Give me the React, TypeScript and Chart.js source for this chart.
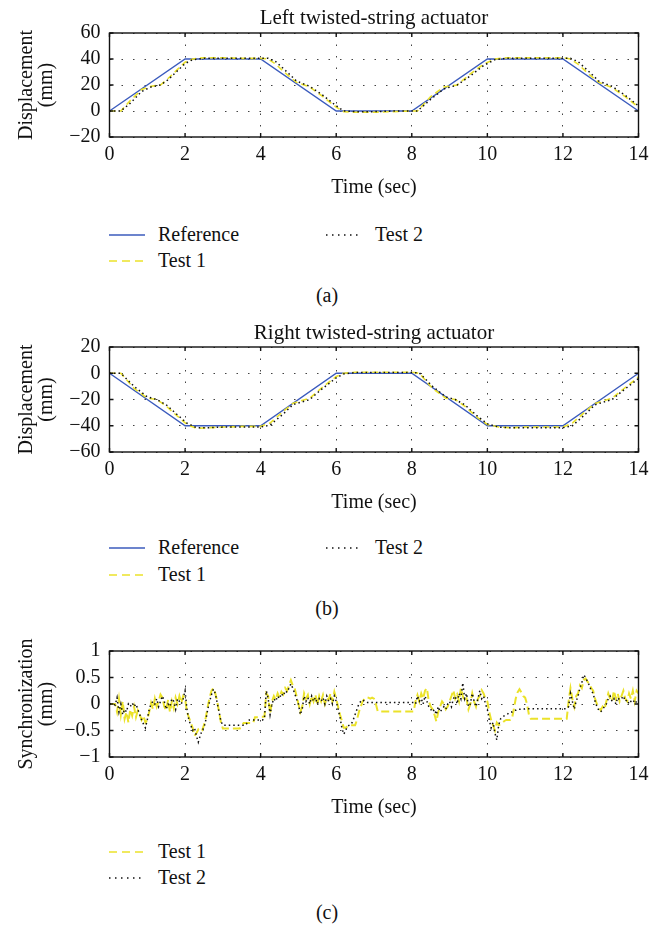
import React, { useEffect, useRef } from "react";
import { Chart, registerables } from "chart.js";

Chart.register(...registerables);

const FONT = '"Liberation Serif", "Times New Roman", serif';
const PAGE_W = 670;
const PLOT_LEFT = 109.5;
const PLOT_RIGHT = 638.5;

const BLUE = "#3b5bbd";
const YELLOW = "#ebe22a";
const BLACK = "#111111";

// ---------- Data ----------
const X_TICKS = [0, 2, 4, 6, 8, 10, 12, 14];
const LEFT_Y_TICKS = [-20, 0, 20, 40, 60];
const RIGHT_Y_TICKS = [-60, -40, -20, 0, 20];
const SYNC_Y_TICKS = [-1, -0.5, 0, 0.5, 1];

// (a) Left twisted-string actuator
const LEFT_REF_T = [0, 2, 4, 6, 8, 10, 12, 14];
const LEFT_REF = [0, 40, 40, 0, 0, 40, 40, 0];
const LEFT_TEST_T = [0, 0.3, 0.55, 0.85, 1.1, 1.35, 1.55, 1.8, 2.0, 2.2, 2.5, 3.0, 3.5, 4.0, 4.2, 4.4, 4.7, 4.95, 5.3, 5.65, 6.0, 6.2, 6.5, 7.0, 7.5, 8.0, 8.15, 8.5, 8.85, 9.2, 9.55, 9.9, 10.2, 10.5, 11.0, 11.5, 12.0, 12.2, 12.4, 12.7, 12.95, 13.3, 13.65, 14.0];
const LEFT_TEST1 = [0, 0, 8, 16.5, 19, 20, 25, 32, 37.5, 40, 41, 41, 40.5, 40.5, 40, 36, 28, 22, 18.5, 11, 3, -0.5, -1, -1, -0.5, 0, 0, 11, 18.5, 20, 28.5, 36, 40, 41, 41, 41, 41, 40, 36, 28, 22, 18, 11, 3];
const LEFT_TEST2 = [0, 0, 6, 15, 18.5, 20, 24, 31, 36.5, 39.5, 40.5, 40.5, 40.5, 40.5, 40.5, 38, 30, 23, 19, 12, 4, 0, -0.5, -0.5, 0, 0, 0, 9, 17, 20, 27, 35, 39.5, 40.5, 40.5, 40.5, 40.5, 40.5, 38, 30, 23, 19, 12, 4];

// (b) Right twisted-string actuator
const RIGHT_REF_T = [0, 2, 4, 6, 8, 10, 12, 14];
const RIGHT_REF = [0, -40, -40, 0, 0, -40, -40, 0];
const RIGHT_TEST_T = [0, 0.3, 0.65, 1.0, 1.25, 1.5, 1.77, 2.05, 2.3, 2.6, 3.0, 3.5, 4.0, 4.25, 4.6, 4.85, 5.3, 5.6, 6.0, 6.2, 6.5, 7.0, 7.5, 8.0, 8.2, 8.55, 8.9, 9.15, 9.4, 9.75, 10.0, 10.3, 10.6, 11.0, 11.5, 12.0, 12.25, 12.6, 12.85, 13.3, 13.6, 14.0];
const RIGHT_TEST1 = [0, 0, -11.5, -19, -20, -25, -32, -39, -42, -41.5, -41, -40.5, -40.5, -38, -29, -23, -19, -11.5, -2.5, 0, 0.8, 0.8, 0.8, 0.8, 0, -11.5, -19, -20, -25, -34, -39, -41, -41.5, -41, -41, -41, -38, -29, -23, -19, -12, -3];
const RIGHT_TEST2 = [0, 0, -10, -18, -20, -24, -31, -38, -41.5, -41.5, -41, -41, -41, -39.5, -31, -24, -20, -12.5, -3.5, -0.5, 0.5, 0.5, 0.5, 0.5, 0.3, -10, -18, -20, -24, -33, -38.5, -41, -41.5, -41.5, -41.5, -41.5, -40, -31, -24, -20, -13, -4];

// (c) Synchronization, sampled every 0.05 s from 0 to 14 s
const SYNC_DT = 0.05;
const SYNC_TEST1 = [
  0, 0, 0, 0, -0.15, 0.1, -0.2, 0.05, -0.28, -0.15, -0.35, -0.1, -0.22, -0.05, -0.25, -0.12, -0.2, -0.3, -0.22, -0.35,
  -0.3, -0.15, 0.02, -0.1, 0.1, -0.05, 0.05, 0.18, 0.12, -0.05, -0.12, 0.08, -0.15, 0.05, -0.08, 0.12, 0.0, 0.15, 0.02, 0.15,
  0.1, -0.15, -0.25, -0.35, -0.45, -0.6, -0.55, -0.48, -0.52, -0.5, -0.4, -0.25, -0.05, 0.12, 0.25, 0.3, 0.2, 0.05, -0.15, -0.35,
  -0.46, -0.46, -0.46, -0.46, -0.46, -0.46, -0.46, -0.46, -0.46, -0.46, -0.4, -0.36, -0.36, -0.36, -0.36, -0.36, -0.36, -0.25, -0.25, -0.25,
  -0.24, -0.24, -0.24, 0.2, 0.15, -0.18, 0.05, 0.15, 0.08, 0.2, 0.12, 0.23, 0.18, 0.3, 0.25, 0.35, 0.45, 0.35, 0.3, 0.15,
  0.0, -0.15, -0.05, 0.2, 0.1, 0.17, 0.0, 0.15, 0.05, 0.18, -0.02, 0.15, 0.05, 0.17, 0.0, 0.12, 0.08, 0.2, 0.05, 0.23,
  0.1, -0.05, -0.2, -0.32, -0.45, -0.45, -0.42, -0.4, -0.4, -0.4, -0.4, -0.3, -0.15, -0.05, 0.05, 0.1, 0.13, 0.12, 0.1, 0.12,
  0.1, 0.0, -0.14, -0.14, -0.14, -0.14, -0.14, -0.14, -0.14, -0.14, -0.14, -0.14, -0.14, -0.14, -0.14, -0.14, -0.14, -0.14, -0.14, -0.14,
  -0.14, -0.14, 0.05, 0.17, 0.05, 0.2, 0.1, 0.25, 0.3, 0.05, -0.05, -0.1, -0.2, -0.33, -0.15, -0.05, 0.05, 0.0, -0.1, -0.05,
  0.05, 0.15, 0.26, 0.1, 0.18, 0.05, 0.3, 0.15, 0.05, 0.1, -0.1, 0.0, 0.2, 0.05, -0.05, 0.1, 0.15, 0.26, 0.2, 0.1,
  0.05, -0.15, -0.3, -0.4, -0.5, -0.35, -0.4, -0.38, -0.35, -0.32, -0.3, -0.3, -0.3, -0.28, -0.1, 0.1, 0.22, 0.28, 0.22, 0.15,
  0.12, 0.0, -0.2, -0.28, -0.28, -0.28, -0.28, -0.28, -0.28, -0.28, -0.28, -0.28, -0.28, -0.28, -0.28, -0.28, -0.28, -0.28, -0.28, -0.28,
  -0.28, -0.28, -0.28, 0.05, 0.3, 0.1, -0.05, 0.15, 0.2, 0.35, 0.3, 0.45, 0.48, 0.42, 0.38, 0.3, 0.25, 0.1, 0.0, -0.05,
  -0.12, -0.05, -0.1, 0.05, 0.2, 0.1, 0.05, 0.25, 0.1, 0.2, 0.05, 0.15, 0.25, 0.1, 0.05, 0.2, 0.1, 0.25, 0.05, 0.25,
  0.2,
];
const SYNC_TEST2 = [
  0, 0, 0, -0.02, 0.12, -0.15, 0.0, -0.2, -0.1, -0.15, 0.0, -0.05, 0.02, -0.05, 0.0, -0.1, -0.2, -0.3, -0.38, -0.45,
  -0.3, -0.1, 0.0, 0.05, 0.0, 0.1, -0.05, 0.05, 0.15, 0.05, -0.1, 0.0, -0.05, 0.1, 0.05, -0.1, 0.1, 0.05, 0.0, 0.1,
  0.25, -0.1, -0.3, -0.4, -0.5, -0.45, -0.6, -0.72, -0.6, -0.5, -0.45, -0.3, -0.1, 0.05, 0.18, 0.28, 0.2, 0.02, -0.15, -0.33,
  -0.4, -0.4, -0.4, -0.4, -0.4, -0.4, -0.4, -0.4, -0.4, -0.4, -0.4, -0.4, -0.4, -0.35, -0.3, -0.3, -0.3, -0.3, -0.3, -0.3,
  -0.3, -0.3, -0.28, 0.25, 0.1, -0.2, 0.0, 0.1, 0.05, 0.15, 0.1, 0.2, 0.15, 0.25, 0.22, 0.3, 0.38, 0.3, 0.2, 0.1,
  0.0, -0.2, -0.1, 0.15, 0.05, 0.12, 0.0, 0.15, 0.05, 0.12, 0.0, 0.1, 0.05, 0.12, 0.0, 0.15, 0.05, 0.1, 0.0, 0.15,
  0.05, -0.1, -0.25, -0.45, -0.57, -0.5, -0.42, -0.4, -0.38, -0.3, -0.2, -0.1, 0.0, 0.05, 0.08, 0.05, 0.03, 0.03, 0.03, 0.03,
  0.03, 0.03, 0.03, 0.03, 0.03, 0.03, 0.03, 0.03, 0.03, 0.03, 0.03, 0.03, 0.03, 0.03, 0.03, 0.03, 0.03, 0.03, 0.03, 0.03,
  0.03, 0.03, 0.0, 0.15, 0.05, 0.1, 0.0, 0.15, 0.05, -0.05, -0.1, -0.15, -0.1, -0.2, -0.05, -0.15, -0.1, -0.05, -0.1, 0.0,
  0.05, -0.05, 0.1, 0.15, 0.0, 0.2, 0.1, 0.4, 0.1, 0.2, -0.05, 0.0, 0.2, 0.05, -0.05, 0.1, 0.25, 0.1, 0.15, 0.0,
  -0.1, -0.3, -0.45, -0.35, -0.55, -0.68, -0.4, -0.28, -0.25, -0.22, -0.2, -0.18, -0.15, -0.15, -0.12, -0.12, -0.1, -0.1, -0.1, -0.1,
  -0.09, -0.09, -0.09, -0.09, -0.09, -0.09, -0.09, -0.09, -0.09, -0.09, -0.09, -0.09, -0.09, -0.09, -0.09, -0.09, -0.09, -0.09, -0.09, -0.09,
  -0.09, -0.09, -0.09, -0.05, 0.2, 0.05, -0.1, 0.05, 0.15, 0.3, 0.4, 0.55, 0.5, 0.42, 0.35, 0.25, 0.2, 0.05, -0.05, -0.12,
  -0.15, -0.1, -0.05, 0.0, 0.1, 0.15, 0.05, 0.1, 0.0, 0.12, 0.08, 0.1, 0.15, 0.05, 0.08, 0.0, 0.05, 0.02, 0.08, 0.02,
  0.02,
];
const SYNC_T = SYNC_TEST1.map((_, i) => Math.round(i * SYNC_DT * 100) / 100);

// ---------- helpers ----------
function pts(ts: number[], vs: number[]) {
  const n = Math.min(ts.length, vs.length);
  const out: { x: number; y: number }[] = [];
  for (let i = 0; i < n; i++) out.push({ x: ts[i], y: vs[i] });
  return out;
}

function fmt(v: number) {
  if (Math.abs(v) < 1e-9) return "0";
  const s = String(Math.abs(Math.round(v * 100) / 100));
  return v < 0 ? "\u2212" + s : s;
}

const refDs = (data: any) => ({ label: "Reference", data, borderColor: BLUE, borderWidth: 1.4, pointRadius: 0, order: 3 });
const t1Ds = (data: any, dash: number[], w: number) => ({ label: "Test 1", data, borderColor: YELLOW, borderWidth: w, borderDash: dash, pointRadius: 0, order: 2 });
const t2Ds = (data: any) => ({ label: "Test 2", data, borderColor: BLACK, borderWidth: 1.5, borderDash: [1.5, 3], pointRadius: 0, order: 1 });

interface Panel {
  top: number;
  height: number;
  plotTop: number;
  plotBottom: number;
  title?: string;
  titleBase?: number;
  xLabelBase: number;
  yLabel: string[];
  yTicks: number[];
  datasets: any[];
}

const PANELS: Panel[] = [
  {
    top: 0, height: 205, plotTop: 33, plotBottom: 137,
    title: "Left twisted-string actuator", titleBase: 24, xLabelBase: 193,
    yLabel: ["Displacement", "(mm)"], yTicks: LEFT_Y_TICKS,
    datasets: [
      t2Ds(pts(LEFT_TEST_T, LEFT_TEST2)),
      t1Ds(pts(LEFT_TEST_T, LEFT_TEST1), [6, 4], 1.6),
      refDs(pts(LEFT_REF_T, LEFT_REF)),
    ],
  },
  {
    top: 310, height: 205, plotTop: 347, plotBottom: 452,
    title: "Right twisted-string actuator", titleBase: 339, xLabelBase: 508,
    yLabel: ["Displacement", "(mm)"], yTicks: RIGHT_Y_TICKS,
    datasets: [
      t2Ds(pts(RIGHT_TEST_T, RIGHT_TEST2)),
      t1Ds(pts(RIGHT_TEST_T, RIGHT_TEST1), [6, 4], 1.6),
      refDs(pts(RIGHT_REF_T, RIGHT_REF)),
    ],
  },
  {
    top: 625, height: 200, plotTop: 651, plotBottom: 757,
    xLabelBase: 813,
    yLabel: ["Synchronization", "(mm)"], yTicks: SYNC_Y_TICKS,
    datasets: [
      t2Ds(pts(SYNC_T, SYNC_TEST2)),
      t1Ds(pts(SYNC_T, SYNC_TEST1), [8, 4], 2),
    ],
  },
];

const Y_LABEL_X = [32, 52];
const X_AXIS_H = 40;

function makeDecor(p: Panel) {
  return {
    id: "decor",
    afterDraw(chart: any) {
      const { ctx, chartArea: a, scales } = chart;
      const xs = scales.x;
      const ys = scales.y;
      ctx.save();
      ctx.strokeStyle = "#111";
      ctx.lineWidth = 1.4;
      ctx.setLineDash([]);
      ctx.strokeRect(a.left, a.top, a.right - a.left, a.bottom - a.top);
      ctx.beginPath();
      xs.ticks.forEach((t: any) => {
        const x = xs.getPixelForValue(t.value);
        ctx.moveTo(x, a.bottom);
        ctx.lineTo(x, a.bottom - 4);
        ctx.moveTo(x, a.top);
        ctx.lineTo(x, a.top + 4);
      });
      ys.ticks.forEach((t: any) => {
        const y = ys.getPixelForValue(t.value);
        ctx.moveTo(a.left, y);
        ctx.lineTo(a.left + 4, y);
        ctx.moveTo(a.right, y);
        ctx.lineTo(a.right - 4, y);
      });
      ctx.stroke();

      ctx.fillStyle = "#111";
      ctx.textAlign = "center";
      ctx.textBaseline = "alphabetic";
      const cx = (a.left + a.right) / 2;
      ctx.font = `21px ${FONT}`;
      if (p.title && p.titleBase !== undefined) ctx.fillText(p.title, cx, p.titleBase - p.top);
      ctx.font = `20px ${FONT}`;
      ctx.fillText("Time (sec)", cx, p.xLabelBase - p.top);
      const cy = (a.top + a.bottom) / 2;
      p.yLabel.forEach((s, i) => {
        ctx.save();
        ctx.translate(Y_LABEL_X[i], cy);
        ctx.rotate(-Math.PI / 2);
        ctx.fillText(s, 0, 0);
        ctx.restore();
      });
      ctx.restore();
    },
  };
}

function PanelChart({ p }: { p: Panel }) {
  const ref = useRef<HTMLCanvasElement | null>(null);
  useEffect(() => {
    if (!ref.current) return;
    const padTop = p.plotTop - p.top;
    const padBottom = p.height - (p.plotBottom - p.top) - X_AXIS_H;
    const yMin = p.yTicks[0];
    const yMax = p.yTicks[p.yTicks.length - 1];
    const chart = new Chart(ref.current, {
      type: "line",
      data: { datasets: p.datasets },
      options: {
        animation: false,
        responsive: false,
        devicePixelRatio: 1,
        layout: { padding: { left: 0, right: PAGE_W - PLOT_RIGHT, top: padTop, bottom: padBottom } },
        plugins: { legend: { display: false }, tooltip: { enabled: false }, title: { display: false } },
        elements: { line: { tension: 0 }, point: { radius: 0 } },
        scales: {
          x: {
            type: "linear",
            min: X_TICKS[0],
            max: X_TICKS[X_TICKS.length - 1],
            afterBuildTicks: (s: any) => {
              s.ticks = X_TICKS.map((v) => ({ value: v }));
            },
            afterFit: (s: any) => {
              s.height = X_AXIS_H;
            },
            grid: { color: "rgba(20,20,20,0.8)", lineWidth: 1, drawTicks: false },
            border: { display: false, dash: [1.5, 10] },
            ticks: {
              padding: 6,
              maxRotation: 0,
              autoSkip: false,
              color: "#111",
              font: { family: FONT, size: 20 },
              callback: (v: any) => fmt(Number(v)),
            },
          },
          y: {
            type: "linear",
            min: yMin,
            max: yMax,
            afterBuildTicks: (s: any) => {
              s.ticks = p.yTicks.map((v) => ({ value: v }));
            },
            ticks: {
              padding: 9,
              autoSkip: false,
              color: "#111",
              font: { family: FONT, size: 20 },
              callback: (v: any) => fmt(Number(v)),
            },
            afterFit: (s: any) => {
              s.width = PLOT_LEFT;
            },
            grid: { color: "rgba(20,20,20,0.8)", lineWidth: 1, drawTicks: false },
            border: { display: false, dash: [1.5, 10] },
          },
        },
      } as any,
      plugins: [makeDecor(p)],
    });
    return () => chart.destroy();
  }, [p]);
  return (
    <canvas
      ref={ref}
      width={PAGE_W}
      height={p.height}
      style={{ position: "absolute", left: 0, top: p.top, width: PAGE_W, height: p.height }}
    />
  );
}

type Kind = "ref" | "t1" | "t2";
interface LegendEntry {
  kind: Kind;
  label: string;
  x: number; // sample left
  base: number; // text baseline
}

const LEGENDS: LegendEntry[] = [
  { kind: "ref", label: "Reference", x: 109, base: 241 },
  { kind: "t1", label: "Test 1", x: 109, base: 267 },
  { kind: "t2", label: "Test 2", x: 326, base: 241 },
  { kind: "ref", label: "Reference", x: 109, base: 554 },
  { kind: "t1", label: "Test 1", x: 109, base: 581 },
  { kind: "t2", label: "Test 2", x: 326, base: 554 },
  { kind: "t1", label: "Test 1", x: 109, base: 858 },
  { kind: "t2", label: "Test 2", x: 109, base: 884 },
];

const CAPTIONS = [
  { text: "(a)", base: 302 },
  { text: "(b)", base: 615 },
  { text: "(c)", base: 919 },
];
const CAPTION_X = 327;

const TEXT_STYLE: React.CSSProperties = {
  position: "absolute",
  fontFamily: FONT,
  fontSize: 20,
  lineHeight: "20px",
  color: "#111",
  whiteSpace: "nowrap",
};
const BASE_OFFSET = 16.7;

function LegendItem({ e }: { e: LegendEntry }) {
  const sampleY = e.base - 6.5;
  const stroke = e.kind === "ref" ? BLUE : e.kind === "t1" ? YELLOW : BLACK;
  const dash = e.kind === "ref" ? undefined : e.kind === "t1" ? "8 5" : "1.5 4.5";
  return (
    <>
      <svg width={36} height={6} style={{ position: "absolute", left: e.x, top: sampleY - 3 }}>
        <line x1={0} y1={3} x2={36} y2={3} stroke={stroke} strokeWidth={1.6} strokeDasharray={dash} />
      </svg>
      <div style={{ ...TEXT_STYLE, left: e.x + 49, top: e.base - BASE_OFFSET }}>{e.label}</div>
    </>
  );
}

export default function App() {
  return (
    <div
      style={{
        position: "absolute",
        left: 0,
        top: 0,
        width: PAGE_W,
        height: 925,
        background: "#ffffff",
        overflow: "hidden",
      }}
    >
      {PANELS.map((p, i) => (
        <PanelChart key={i} p={p} />
      ))}
      {LEGENDS.map((e, i) => (
        <LegendItem key={i} e={e} />
      ))}
      {CAPTIONS.map((c, i) => (
        <div
          key={i}
          style={{ ...TEXT_STYLE, left: CAPTION_X - 40, width: 80, textAlign: "center", top: c.base - BASE_OFFSET }}
        >
          {c.text}
        </div>
      ))}
    </div>
  );
}
